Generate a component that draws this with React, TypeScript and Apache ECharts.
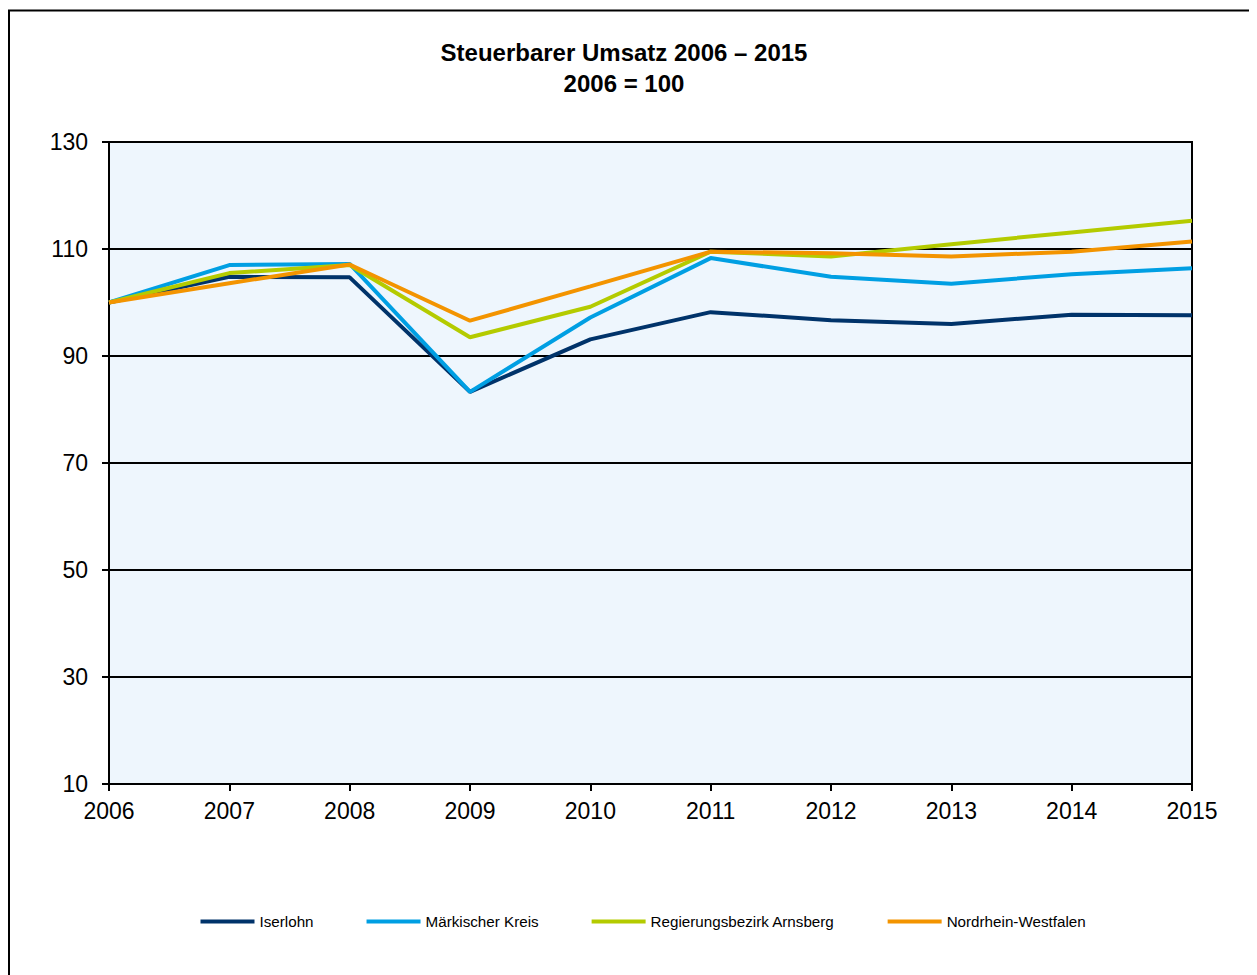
import React, { useEffect, useRef } from "react";
import * as echarts from "echarts";

const years = ["2006", "2007", "2008", "2009", "2010", "2011", "2012", "2013", "2014", "2015"];
const iserlohn = [100, 104.8, 104.7, 83.3, 93.1, 98.2, 96.7, 96.0, 97.7, 97.6];
const maerkischerKreis = [100, 107.0, 107.2, 83.3, 97.2, 108.3, 104.8, 103.5, 105.3, 106.4];
const arnsberg = [100, 105.5, 107.0, 93.5, 99.2, 109.5, 108.6, 110.9, 113.1, 115.3];
const nrw = [100, 103.6, 107.1, 96.6, 103.0, 109.5, 109.2, 108.6, 109.5, 111.4];
const seriesNames = ["Iserlohn", "Märkischer Kreis", "Regierungsbezirk Arnsberg", "Nordrhein-Westfalen"];
const seriesColors = ["#00336a", "#009fe3", "#b4cb00", "#f39400"];
const titleLines = ["Steuerbarer Umsatz 2006 – 2015", "2006 = 100"];

const FONT = "'Liberation Sans', Arial, Helvetica, sans-serif";

export default function App() {
  const ref = useRef<HTMLDivElement>(null);
  useEffect(() => {
    document.body.style.overflow = "hidden";
    if (!ref.current) return;
    const chart = echarts.init(ref.current, undefined, { renderer: "svg" });
    const data = [iserlohn, maerkischerKreis, arnsberg, nrw];
    chart.setOption({
      animation: false,
      backgroundColor: "#ffffff",
      textStyle: { fontFamily: FONT },
      title: {
        text: titleLines.join("\n"),
        left: 616,
        textAlign: "center",
        top: 29,
        padding: 0,
        textStyle: {
          fontFamily: FONT,
          fontSize: 24,
          fontWeight: "bold",
          color: "#000",
          lineHeight: 31,
        },
      },
      graphic: [
        {
          type: "rect",
          shape: { x: 1, y: 2.5, width: 1246, height: 1100 },
          style: { fill: "none", stroke: "#000", lineWidth: 2 },
          silent: true,
        },
      ],
      legend: {
        left: 192.5,
        top: 906,
        padding: 0,
        itemWidth: 54,
        itemHeight: 4,
        itemGap: 53,
        icon: "rect",
        textStyle: { fontFamily: FONT, fontSize: 15.2, color: "#000" },
        data: seriesNames,
      },
      grid: {
        left: 101,
        top: 134,
        width: 1083,
        height: 642,
        show: true,
        backgroundColor: "#eef6fd",
        borderColor: "#000",
        borderWidth: 2,
      },
      xAxis: {
        type: "category",
        data: years,
        boundaryGap: false,
        axisLine: { lineStyle: { color: "#000", width: 2 } },
        axisTick: { show: true, length: 7, interval: 0, lineStyle: { color: "#000", width: 2 } },
        axisLabel: { interval: 0, margin: 15, fontSize: 23, color: "#000", fontFamily: FONT },
        splitLine: { show: false },
      },
      yAxis: {
        type: "value",
        min: 10,
        max: 130,
        interval: 20,
        axisLine: { show: true, lineStyle: { color: "#000", width: 2 } },
        axisTick: { show: true, length: 7, lineStyle: { color: "#000", width: 2 } },
        axisLabel: { margin: 21, fontSize: 23, color: "#000", fontFamily: FONT },
        splitLine: { show: true, lineStyle: { color: "#000", width: 1.8 } },
      },
      series: seriesNames.map((name, i) => ({
        name,
        type: "line",
        data: data[i],
        symbol: "none",
        color: seriesColors[i],
        lineStyle: { width: 4, color: seriesColors[i] },
      })),
    });
    return () => chart.dispose();
  }, []);
  return <div ref={ref} style={{ width: 1249, height: 967 }} />;
}
